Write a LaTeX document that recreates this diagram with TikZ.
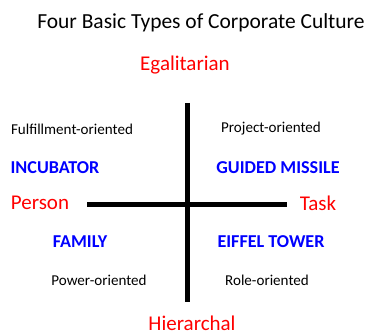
\documentclass[tikz,border=0pt]{standalone}
\usepackage{fontspec}
\setmainfont{Carlito}
\usepackage{xcolor}
\usetikzlibrary{positioning}
\definecolor{axisred}{RGB}{255,0,0}
\definecolor{typeblue}{RGB}{0,0,255}

\begin{document}
\begin{tikzpicture}[
    x=0.75pt, y=-0.75pt,
    heading/.style={font=\fontsize{16.1}{18}\selectfont},
    pole/.style={font=\fontsize{15.75}{18}\selectfont, text=axisred, inner sep=1pt},
    culture/.style={font=\fontsize{13.6}{16}\selectfont\bfseries, text=typeblue},
    orient/.style={font=\fontsize{11.3}{13}\selectfont},
    axis/.style={line width=3.75pt},
]
    \useasboundingbox (0,0) rectangle (367,334);
    % Title
    \node[heading] (title) at (201,23) {Four Basic Types of Corporate Culture};
    % Poles of the two axes
    \node[pole] (egal) at (185,65) {Egalitarian};
    \node[pole] (hier) at (192,323) {Hierarchal};
    \node[pole] (person) at (40,203) {Person};
    \node[pole] (task) at (318,203) {Task};
    % Axes
    \coordinate (top) at (187,103);
    \coordinate (bottom) at (187,302);
    \coordinate (left) at (87,205);
    \coordinate (right) at (287,205);
    \draw[axis] (top) -- (bottom);
    \draw[axis] (left) -- (right);
    % Upper quadrants
    \node[orient] (fulfil) at (72,129) {Fulfillment-oriented};
    \node[orient] (project) at (271,129) {Project-oriented};
    \node[culture] (incub) at (55,168) {INCUBATOR};
    \node[culture] (missile) at (278,168) {GUIDED MISSILE};
    % Lower quadrants
    \node[culture] (family) at (80,242) {FAMILY};
    \node[culture] (eiffel) at (271,242) {EIFFEL TOWER};
    \node[orient] (power) at (99,280) {Power-oriented};
    \node[orient] (role) at (267,280) {Role-oriented};
\end{tikzpicture}
\end{document}
